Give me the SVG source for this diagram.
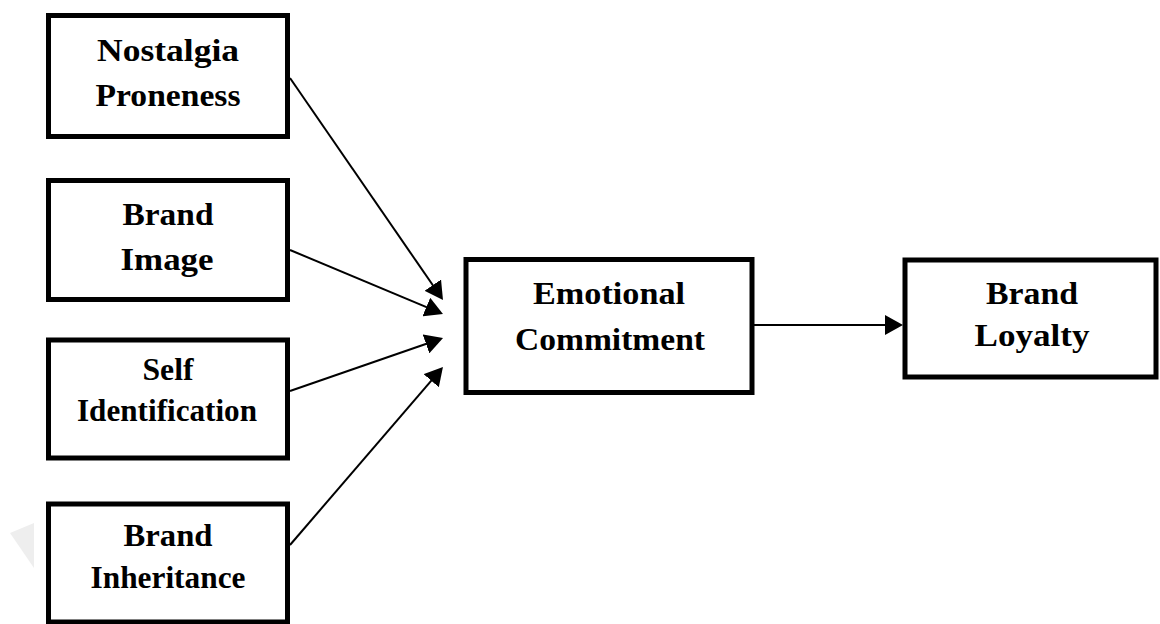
<svg xmlns="http://www.w3.org/2000/svg" width="1160" height="624" viewBox="0 0 1160 624">
  <style>
    .box { fill: #ffffff; stroke: #000000; stroke-width: 5; }
    .lbl { font-family: "Liberation Serif", "Times New Roman", serif; font-weight: bold; font-size: 32px; fill: #000000; text-anchor: middle; }
    .conn { stroke: #000000; stroke-width: 2; fill: none; marker-end: url(#arrow); }
  </style>
  <defs>
    <marker id="arrow" viewBox="0 0 18 20" refX="15" refY="10" markerWidth="18" markerHeight="20" markerUnits="userSpaceOnUse" orient="auto">
      <path d="M0,0 L18,10 L0,20 z" fill="#000000"/>
    </marker>
  </defs>
  <rect x="0" y="0" width="1160" height="624" fill="#ffffff"/>
  <polygon points="10,533 34,523 34,568" fill="#eeeeee"/>

  <g id="connectors">
    <line class="conn" x1="290" y1="78" x2="441.3" y2="297.5"/>
    <line class="conn" x1="290" y1="250" x2="440.2" y2="312.8"/>
    <line class="conn" x1="290" y1="391" x2="440.2" y2="339"/>
    <line class="conn" x1="290" y1="545" x2="441" y2="369.3"/>
    <line class="conn" x1="752" y1="325" x2="900" y2="325"/>
  </g>

  <g id="nostalgia-proneness">
    <rect class="box" x="48.5" y="15.5" width="239" height="121"/>
    <text class="lbl" x="168" y="60.5" textLength="142" lengthAdjust="spacingAndGlyphs">Nostalgia</text>
    <text class="lbl" x="168" y="106" textLength="145" lengthAdjust="spacingAndGlyphs">Proneness</text>
  </g>

  <g id="brand-image">
    <rect class="box" x="48.5" y="180.5" width="239" height="119"/>
    <text class="lbl" x="168" y="225" textLength="91" lengthAdjust="spacingAndGlyphs">Brand</text>
    <text class="lbl" x="167" y="270" textLength="93" lengthAdjust="spacingAndGlyphs">Image</text>
  </g>

  <g id="self-identification">
    <rect class="box" x="48.5" y="340" width="239" height="118"/>
    <text class="lbl" x="168" y="380" textLength="51" lengthAdjust="spacingAndGlyphs">Self</text>
    <text class="lbl" x="167" y="421" textLength="180" lengthAdjust="spacingAndGlyphs">Identification</text>
  </g>

  <g id="brand-inheritance">
    <rect class="box" x="48.5" y="504" width="239" height="118"/>
    <text class="lbl" x="168" y="546" textLength="89" lengthAdjust="spacingAndGlyphs">Brand</text>
    <text class="lbl" x="168" y="588" textLength="155" lengthAdjust="spacingAndGlyphs">Inheritance</text>
  </g>

  <g id="emotional-commitment">
    <rect class="box" x="466" y="259.5" width="286" height="133"/>
    <text class="lbl" x="609" y="304" textLength="152" lengthAdjust="spacingAndGlyphs">Emotional</text>
    <text class="lbl" x="610" y="350" textLength="190" lengthAdjust="spacingAndGlyphs">Commitment</text>
  </g>

  <g id="brand-loyalty">
    <rect class="box" x="905" y="260" width="251" height="117"/>
    <text class="lbl" x="1032" y="304" textLength="92" lengthAdjust="spacingAndGlyphs">Brand</text>
    <text class="lbl" x="1032" y="346" textLength="115" lengthAdjust="spacingAndGlyphs">Loyalty</text>
  </g>
</svg>
